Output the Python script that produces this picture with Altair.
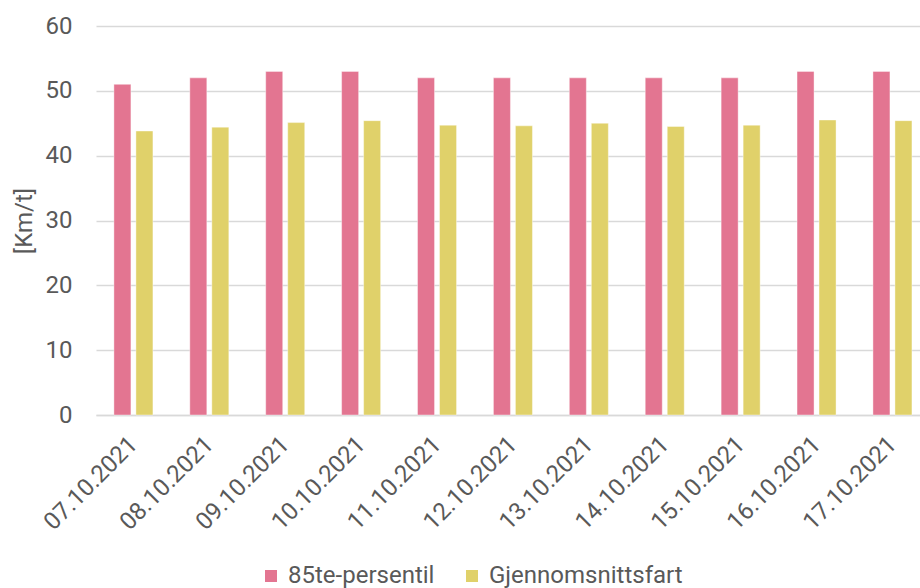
import altair as alt
import pandas as pd

dates = ["07.10.2021", "08.10.2021", "09.10.2021", "10.10.2021", "11.10.2021",
         "12.10.2021", "13.10.2021", "14.10.2021", "15.10.2021", "16.10.2021", "17.10.2021"]
p85 = [51, 52, 53, 53, 52, 52, 52, 52, 52, 53, 53]
avg = [43.8, 44.4, 45.1, 45.4, 44.7, 44.6, 45.0, 44.5, 44.7, 45.5, 45.4]
series = ["85te-persentil", "Gjennomsnittsfart"]
colors = ["#E37591", "#E0D16A"]

rows = []
for d, a, b in zip(dates, p85, avg):
    rows.append({"dato": d, "serie": series[0], "verdi": a})
    rows.append({"dato": d, "serie": series[1], "verdi": b})
df = pd.DataFrame(rows)

FONT = "Roboto"
TXT = "#595959"
FS = 24
FW = 400

chart = alt.Chart(df).mark_bar(stroke="white", strokeWidth=0.8, strokeOpacity=0.5).encode(
    x=alt.X("dato:N", sort=dates, title=None,
            scale=alt.Scale(paddingInner=0.486, paddingOuter=0.171, align=0.69),
            axis=alt.Axis(labelAngle=-45, labelFontSize=FS, labelColor=TXT, labelFont=FONT,
                          labelFontWeight=FW,
                          ticks=False, domainColor="#d9d9d9", domainWidth=1.5,
                          labelPadding=17, labelOffset=-8, labelAlign="right",
                          labelBaseline="top", labelLimit=300)),
    xOffset=alt.XOffset("serie:N", sort=series,
                        scale=alt.Scale(paddingInner=0.227, paddingOuter=0)),
    y=alt.Y("verdi:Q", title="[Km/t]",
            scale=alt.Scale(domain=[0, 60]),
            axis=alt.Axis(values=[0, 10, 20, 30, 40, 50, 60], labelFontSize=FS, labelColor=TXT,
                          labelFont=FONT, labelFontWeight=FW, ticks=False, domain=False,
                          labelPadding=24, gridColor="#d9d9d9", gridWidth=1.5,
                          titleFontSize=FS, titleFont=FONT, titleColor=TXT,
                          titleFontWeight=FW, titlePadding=9)),
    color=alt.Color("serie:N", sort=series,
                    scale=alt.Scale(domain=series, range=colors),
                    legend=alt.Legend(title=None, orient="none", direction="horizontal",
                                      legendX=163, legendY=538, symbolType="square",
                                      symbolSize=144, symbolStrokeWidth=0, labelFontSize=FS,
                                      labelFont=FONT, labelFontWeight=FW, labelColor=TXT,
                                      columnPadding=25, labelOffset=5, labelLimit=400)),
).properties(
    width=824, height=389,
    autosize=alt.AutoSizeParams(type="none"),
    padding={"left": 96, "top": 26, "right": 0, "bottom": 173},
).configure_view(stroke=None)

chart.save("out.html", embed_options={"renderer": "svg", "actions": False})
